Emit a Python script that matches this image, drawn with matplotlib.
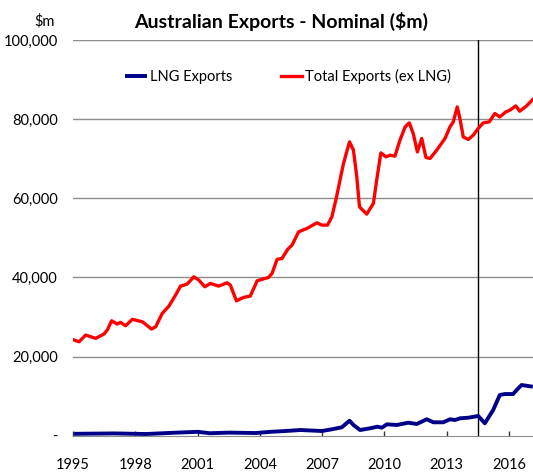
import matplotlib
matplotlib.use("Agg")
import matplotlib.pyplot as plt

# ---------- data ----------
total_years = [1995.05, 1995.29, 1995.61, 1996.09, 1996.49, 1996.65, 1996.86, 1997.13,
               1997.29, 1997.53, 1997.86, 1998.34, 1998.78, 1998.98, 1999.30, 1999.62,
               1999.94, 2000.18, 2000.50, 2000.82, 2001.06, 2001.35, 2001.62, 2001.86,
               2002.02, 2002.42, 2002.58, 2002.87, 2003.22, 2003.54, 2003.87, 2004.42,
               2004.59, 2004.83, 2005.07, 2005.34, 2005.55, 2005.87, 2006.27, 2006.75,
               2006.99, 2007.26, 2007.47, 2007.68, 2008.03, 2008.32, 2008.51, 2008.67,
               2008.80, 2009.15, 2009.47, 2009.63, 2009.83, 2010.08, 2010.27, 2010.51,
               2010.75, 2011.00, 2011.20, 2011.39, 2011.59, 2011.80, 2012.00, 2012.20,
               2012.52, 2012.92, 2013.16, 2013.32, 2013.51, 2013.64, 2013.80, 2014.04,
               2014.28, 2014.52, 2014.76, 2015.05, 2015.32, 2015.56, 2015.85, 2016.04,
               2016.33, 2016.52, 2016.85, 2017.15]
total_exports = [24190, 23760, 25450, 24620, 25700, 26710, 29060, 28230,
                 28660, 27800, 29420, 28810, 26970, 27550, 30930, 32770,
                 35550, 37820, 38330, 40170, 39340, 37650, 38510, 38080,
                 37820, 38660, 38080, 34110, 34970, 35300, 39160, 40020,
                 41030, 44570, 44820, 47090, 48180, 51540, 52390, 53810,
                 53230, 53230, 55320, 59970, 68810, 74260, 72160, 65420,
                 57850, 56000, 58710, 64590, 71480, 70470, 70900, 70650,
                 74690, 78050, 79060, 76380, 71730, 75120, 70320, 70070,
                 72160, 75120, 78050, 79310, 83100, 80170, 75520, 74870,
                 75950, 77640, 79060, 79310, 81430, 80570, 81830, 82260,
                 83350, 82010, 83350, 84970]

lng_years = [1995.05, 1997.0, 1998.5, 2000.0, 2001.0, 2001.6, 2002.5, 2003.8,
             2004.5, 2005.2, 2005.95, 2006.99, 2007.47, 2007.95, 2008.32, 2008.51,
             2008.83, 2009.31, 2009.66, 2009.88, 2010.12, 2010.60, 2011.15, 2011.56,
             2012.04, 2012.36, 2012.84, 2013.16, 2013.40, 2013.64, 2014.04, 2014.52,
             2014.84, 2015.24, 2015.56, 2015.80, 2016.20, 2016.37, 2016.61, 2017.15]
lng_exports = [500, 600, 450, 800, 1000, 650, 800, 700,
               1000, 1200, 1460, 1210, 1640, 2150, 3810, 2730,
               1460, 1890, 2300, 2050, 2900, 2730, 3310, 2980,
               4170, 3410, 3410, 4170, 3990, 4420, 4570, 5000,
               3160, 6510, 10300, 10550, 10550, 11560, 12830, 12400]

marker_year = 2014.52
year_ticks = [1995, 1998, 2001, 2004, 2007, 2010, 2013, 2016]
value_ticks = [0, 20000, 40000, 60000, 80000, 100000]
value_labels = ['-', '20,000', '40,000', '60,000', '80,000', '100,000']

# Calibri is not available; Lato is the closest narrow-ish humanist sans
plt.rcParams['font.family'] = ['Lato', 'DejaVu Sans']

# ---------- figure ----------
fig = plt.figure(figsize=(5.33, 4.74), dpi=100)
ax = fig.add_axes([0.137, 0.0806, 0.863, 0.835])

ax.plot(lng_years, lng_exports, color='#000088', lw=2.8, label='LNG Exports',
        solid_capstyle='butt', zorder=3)
ax.plot(total_years, total_exports, color='#ff0000', lw=2.4, label='Total Exports (ex LNG)',
        zorder=3)
ax.axvline(marker_year, color='black', lw=1.0, zorder=2)

ax.set_xlim(1995, 2017.16)
ax.set_ylim(0, 100000)
ax.set_yticks(value_ticks)
ax.set_yticklabels(value_labels)
ax.set_xticks(year_ticks)
ax.set_xticklabels([str(y) for y in year_ticks])

for v in value_ticks[1:]:
    ax.axhline(v, color='#8c8c8c', lw=1.0, zorder=1)

for s in ['left', 'right', 'top']:
    ax.spines[s].set_visible(False)
ax.spines['bottom'].set_color('#8c8c8c')

ax.tick_params(axis='y', length=0, pad=11, labelsize=10.5)
ax.tick_params(axis='x', direction='in', length=3.5, width=1, color='#333333',
               pad=16, labelsize=10.5)

ax.legend(loc='upper left', bbox_to_anchor=(0.085, 0.96), ncol=2, frameon=False,
          fontsize=10.5, handlelength=1.5, handletextpad=0.2, columnspacing=3.3)

fig.text(0.084, 0.955, '$m', fontsize=10.5, ha='center', va='center')
fig.text(0.528, 0.955, 'Australian Exports - Nominal ($m)', fontsize=14,
         fontweight='bold', ha='center', va='center')

fig.savefig('out.png', dpi=100)
